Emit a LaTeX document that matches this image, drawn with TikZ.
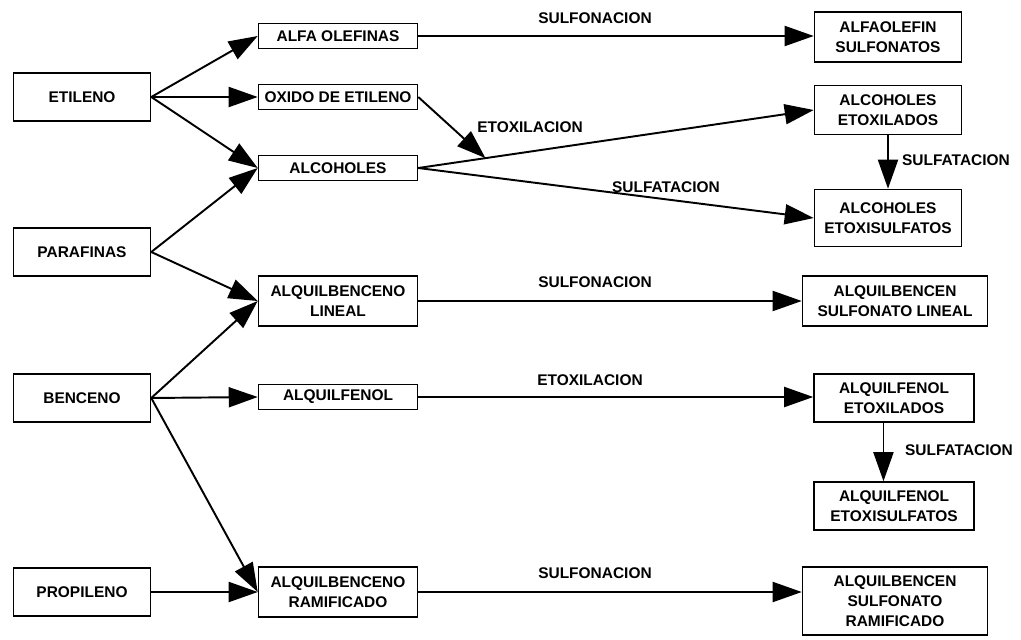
\documentclass[tikz,border=0pt]{standalone}
\usepackage{fontspec}
\setmainfont{Liberation Sans}
\usetikzlibrary{arrows.meta, positioning, calc}
\tikzset{
    box/.style={
        rectangle,
        draw=black,
        line width=0.9pt,
        inner sep=1pt,
        align=center,
        minimum width=#1,
        font=\fontsize{8.8}{11.4}\selectfont\bfseries
    },
    lbl/.style={
        inner sep=0pt,
        font=\fontsize{8.8}{11.4}\selectfont\bfseries
    },
    arrow/.style={
        -{Triangle[length=5.8mm,width=4mm]},
        line width=1.1pt
    }
}
\begin{document}
\begin{tikzpicture}[x=0.02cm, y=-0.02cm]
    \useasboundingbox (0,0) rectangle (1021,639);
    % materias primas
    \node[box=2.74cm, minimum height=0.96cm] (etileno)   at (82,97)  {ETILENO};
    \node[box=2.74cm, minimum height=0.96cm] (parafinas) at (82,252) {PARAFINAS};
    \node[box=2.74cm, minimum height=0.96cm] (benceno)   at (82,398) {BENCENO};
    \node[box=2.74cm, minimum height=0.96cm] (propileno) at (82,592) {PROPILENO};

    % intermedios
    \node[box=3.18cm, minimum height=0.5cm] (alfa)      at (338,36)  {ALFA OLEFINAS};
    \node[box=3.18cm, minimum height=0.5cm] (oxido)     at (338,97)  {OXIDO DE ETILENO};
    \node[box=3.18cm, minimum height=0.5cm] (alcoholes) at (338,168) {ALCOHOLES};
    \node[box=3.18cm, minimum height=1cm]   (ablineal)  at (338,301) {ALQUILBENCENO\\LINEAL};
    \node[box=3.18cm, minimum height=0.5cm] (fenol)     at (338,397) {ALQUILFENOL};
    \node[box=3.18cm, minimum height=1cm]   (abramif)   at (338,592) {ALQUILBENCENO\\RAMIFICADO};

    % productos
    \node[box=2.94cm, minimum height=1cm]    (aos)   at (888,37)  {ALFAOLEFIN\\SULFONATOS};
    \node[box=2.94cm, minimum height=0.98cm] (alcet) at (888,110) {ALCOHOLES\\ETOXILADOS};
    \node[box=2.94cm, minimum height=1.14cm] (alcsu) at (888,218) {ALCOHOLES\\ETOXISULFATOS};
    \node[box=3.7cm,  minimum height=1cm]    (abslin) at (895,301) {ALQUILBENCEN\\SULFONATO LINEAL};
    \node[box=3.2cm,  minimum height=0.96cm] (afet)  at (894,398) {ALQUILFENOL\\ETOXILADOS};
    \node[box=3.2cm,  minimum height=0.96cm] (afsu)  at (894,506) {ALQUILFENOL\\ETOXISULFATOS};
    \node[box=3.7cm,  minimum height=1.36cm] (absram) at (895,601) {ALQUILBENCEN\\SULFONATO\\RAMIFICADO};

    % reacciones
    \node[lbl] (sulf1) at (595,18)  {SULFONACION};
    \node[lbl] (etox1) at (530,127) {ETOXILACION};
    \node[lbl] (sfat1) at (666,187) {SULFATACION};
    \node[lbl] (sfat2) at (956,160) {SULFATACION};
    \node[lbl] (sulf2) at (595,282) {SULFONACION};
    \node[lbl] (etox2) at (590,380) {ETOXILACION};
    \node[lbl] (sfat3) at (959,450) {SULFATACION};
    \node[lbl] (sulf3) at (595,573) {SULFONACION};

    \coordinate (cruce) at ($(alcoholes.east)!0.17!(alcet.west)$);

    \draw[arrow] (etileno.east)   -- (alfa.west);
    \draw[arrow] (etileno.east)   -- (oxido.west);
    \draw[arrow] (etileno.east)   -- (alcoholes.west);
    \draw[arrow] (parafinas.east) -- (alcoholes.west);
    \draw[arrow] (parafinas.east) -- (ablineal.west);
    \draw[arrow] (benceno.east)   -- (ablineal.west);
    \draw[arrow] (benceno.east)   -- (fenol.west);
    \draw[arrow] (benceno.east)   -- (abramif.west);
    \draw[arrow] (propileno.east) -- (abramif.west);

    \draw[arrow] (alfa.east)      -- (alfa.east -| aos.west);
    \draw[arrow] (oxido.east)     -- (cruce);
    \draw[arrow] (alcoholes.east) -- (alcet.west);
    \draw[arrow] (alcoholes.east) -- (alcsu.west);
    \draw[arrow] (alcet.south)    -- (alcsu.north);
    \draw[arrow] (ablineal.east)  -- (abslin.west);
    \draw[arrow] (fenol.east)     -- (fenol.east -| afet.west);
    \draw[arrow] ([xshift=-6]afet.south) -- ([xshift=-6]afsu.north);
    \draw[arrow] (abramif.east)   -- (abramif.east -| absram.west);
\end{tikzpicture}
\end{document}
